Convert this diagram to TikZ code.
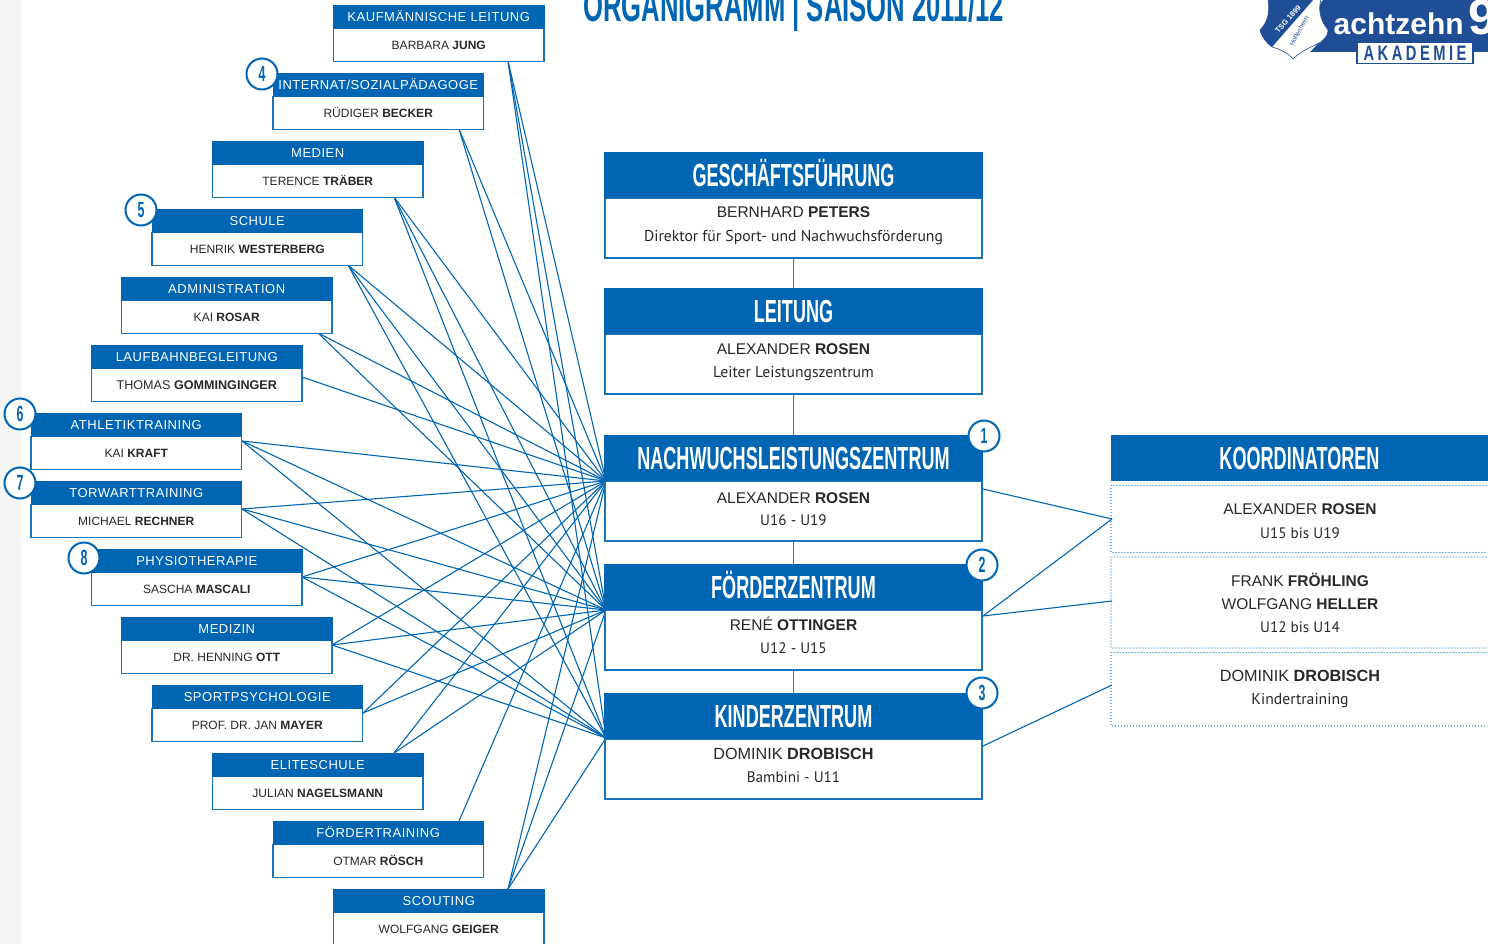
\documentclass[tikz,border=0pt]{standalone}
\usepackage{fontspec}
\setmainfont{Liberation Sans}
\newfontfamily\headfont[FakeStretch=0.565]{Liberation Sans}
\newfontfamily\titlefont[FakeStretch=0.57]{Liberation Sans}
\newfontfamily\logofont[FakeStretch=0.7]{Liberation Sans}
\newfontfamily\spaced[LetterSpace=4]{Liberation Sans}
\newfontfamily\subfont{PT Sans}
\definecolor{tsg}{HTML}{0066B3}
\definecolor{tsgdark}{HTML}{1F4E96}
\definecolor{ink}{HTML}{2B2728}
\definecolor{strip}{HTML}{F3F5F4}
\tikzset{
  link/.style={draw=tsg,line width=1.1pt},
  stem/.style={draw=tsg!85,line width=1.5pt},
  smallhead/.style={fill=tsg,text=white,inner sep=0pt,text height=9.3pt,text depth=0pt,font=\fontsize{13}{13}\spaced},
  smallbody/.style={draw=tsg!90,line width=1.1pt,fill=white,text=ink,inner sep=0pt,text height=8.6pt,text depth=0pt,font=\fontsize{12}{12}\selectfont},
  bighead/.style={fill=tsg,text=white,inner sep=0pt,text height=23pt,text depth=0pt,font=\fontsize{32}{32}\headfont\bfseries},
  bigbody/.style={draw=tsg!90,line width=1.3pt,fill=white,inner sep=0pt},
  nameline/.style={anchor=base,text=ink,inner sep=0pt,font=\fontsize{15.5}{16}\selectfont},
  namewide/.style={nameline,font=\fontsize{16.2}{17}\selectfont},
  subline/.style={anchor=base,text=ink,inner sep=0pt,font=\fontsize{15.7}{16}\subfont},
  subnum/.style={subline,font=\fontsize{15.2}{16}\subfont},
  badge/.style={circle,draw=tsg,line width=2pt,fill=white,text=tsg,minimum size=31pt,inner sep=0pt,font=\fontsize{22}{22}\headfont\bfseries},
  dots/.style={draw=tsg,line width=1.3pt,line cap=round,dash pattern=on 0pt off 3pt}
}
\newcommand{\smallbox}[6]{%
  \node[smallbody,minimum width={(#3-#2)*1pt},minimum height=33pt] (#1b) at ({(#2+#3)/2},{#4+40}) {#6};
  \node[smallhead,minimum width={(#3-#2+1)*1pt},minimum height=24pt] (#1h) at ({(#2+#3)/2},{#4+12}) {#5};
}
\newcommand{\bigbox}[3]{% name, top, title
  \node[bigbody,minimum width=377pt,minimum height=60pt] (#1b) at (793.5,{#2+76}) {};
  \node[bighead,minimum width=379pt,minimum height=46pt] (#1h) at (793.5,{#2+23}) {#3};
}
\begin{document}
\begin{tikzpicture}[x=1pt,y=-1pt]
\useasboundingbox (0,0) rectangle (1488,944);
\clip (0,0) rectangle (1488,944);
\fill[strip] (0,0) rectangle (21,944);

% fan targets and sources
\coordinate (nzp) at (606,481);
\coordinate (fzp) at (606,610);
\coordinate (kzp) at (606,738);
\coordinate (c1) at (508,61);
\coordinate (c2) at (459,129);
\coordinate (c3) at (394,197);
\coordinate (c4) at (348,265);
\coordinate (c5) at (318,333);
\coordinate (c6) at (302,377);
\coordinate (c7) at (242,441);
\coordinate (c8) at (242,509);
\coordinate (c9) at (302,577);
\coordinate (c10) at (332,645);
\coordinate (c11) at (363,713);
\coordinate (c12) at (394,753);
\coordinate (c13) at (459,821);
\coordinate (c14) at (508,889);
\foreach \c in {c1,c2,c3,c4,c5,c6,c7,c8,c9,c10,c11,c12,c13,c14} {\draw[link] (\c) -- (nzp);}
\foreach \c in {c1,c2,c3,c4,c5,c7,c8,c9,c10,c11,c12,c14} {\draw[link] (\c) -- (fzp);}
\foreach \c in {c1,c3,c4,c7,c8,c9,c10,c14} {\draw[link] (\c) -- (kzp);}

% left column
\smallbox{kauf}{333.5}{544}{5}{KAUFMÄNNISCHE LEITUNG}{BARBARA \textbf{JUNG}}
\smallbox{inter}{273}{483.5}{73}{INTERNAT/SOZIALPÄDAGOGE}{RÜDIGER \textbf{BECKER}}
\smallbox{medien}{212.5}{423}{141}{MEDIEN}{TERENCE \textbf{TRÄBER}}
\smallbox{schule}{152}{362.5}{209}{SCHULE}{HENRIK \textbf{WESTERBERG}}
\smallbox{admin}{121.5}{332}{277}{ADMINISTRATION}{KAI \textbf{ROSAR}}
\smallbox{lauf}{91.5}{302}{345}{LAUFBAHNBEGLEITUNG}{\fontsize{12.6}{12.6}\selectfont THOMAS \textbf{GOMMINGINGER}}
\smallbox{athl}{31}{241.5}{413}{ATHLETIKTRAINING}{KAI \textbf{KRAFT}}
\smallbox{tor}{31}{241.5}{481}{TORWARTTRAINING}{MICHAEL \textbf{RECHNER}}
\smallbox{phys}{91.5}{302}{549}{PHYSIOTHERAPIE}{SASCHA \textbf{MASCALI}}
\smallbox{medi}{121.5}{332}{617}{MEDIZIN}{DR. HENNING \textbf{OTT}}
\smallbox{sport}{152}{362.5}{685}{SPORTPSYCHOLOGIE}{PROF. DR. JAN \textbf{MAYER}}
\smallbox{elite}{212.5}{423}{753}{ELITESCHULE}{JULIAN \textbf{NAGELSMANN}}
\smallbox{foert}{273}{483.5}{821}{FÖRDERTRAINING}{OTMAR \textbf{RÖSCH}}
\smallbox{scout}{333.5}{544}{889}{SCOUTING}{WOLFGANG \textbf{GEIGER}}

% vertical connectors
\bigbox{gf}{152}{GESCHÄFTSFÜHRUNG}
\bigbox{le}{288}{LEITUNG}
\bigbox{nz}{435}{NACHWUCHSLEISTUNGSZENTRUM}
\bigbox{fz}{564}{FÖRDERZENTRUM}
\bigbox{kz}{693}{KINDERZENTRUM}
\draw[stem] (gfb.south) -- (leh.north);
\draw[stem] (leb.south) -- (nzh.north);
\draw[stem] (nzb.south) -- (fzh.north);
\draw[stem] (fzb.south) -- (kzh.north);

\node[nameline] (gfa) at (793.5,218) {BERNHARD \textbf{PETERS}};
\node[subline] (gfc) at (793.5,241) {Direktor für Sport- und Nachwuchsförderung};
\node[nameline] (lea) at (793.5,354) {ALEXANDER \textbf{ROSEN}};
\node[subline] (lec) at (793.5,377) {Leiter Leistungszentrum};
\node[nameline] (nza) at (793.5,503) {ALEXANDER \textbf{ROSEN}};
\node[subnum] (nzc) at (793.5,525) {U16 - U19};
\node[nameline] (fza) at (793.5,630) {RENÉ \textbf{OTTINGER}};
\node[subnum] (fzc) at (793.5,653) {U12 - U15};
\node[namewide] (kza) at (793.5,759) {DOMINIK \textbf{DROBISCH}};
\node[subnum] (kzc) at (793.5,782) {Bambini - U11};

% Koordinatoren
\node[bighead,minimum width=377pt,minimum height=46pt] (koh) at (1299.5,458) {KOORDINATOREN};
\draw[dots] (1486,485.5) -- (1111,485.5) -- (1111,552.5) -- (1486,552.5);
\draw[dots] (1486,557) -- (1111,557) -- (1111,648) -- (1486,648);
\draw[dots] (1486,652.5) -- (1111,652.5) -- (1111,726) -- (1486,726);
\coordinate (ko1) at (1112,519);
\coordinate (ko2) at (1112,601);
\coordinate (ko3) at (1112,685);
\coordinate (nzr) at (983,489);
\coordinate (fzr) at (983,616);
\coordinate (kzr) at (983,746);
\draw[link] (nzr) -- (ko1);
\draw[link] (fzr) -- (ko1);
\draw[link] (fzr) -- (ko2);
\draw[link] (kzr) -- (ko3);
\node[nameline] (koa) at (1300,514) {ALEXANDER \textbf{ROSEN}};
\node[subnum] (kob) at (1300,538) {U15 bis U19};
\node[nameline] (koc) at (1300,586) {FRANK \textbf{FRÖHLING}};
\node[nameline] (kod) at (1300,609) {WOLFGANG \textbf{HELLER}};
\node[subnum] (koe) at (1300,632) {U12 bis U14};
\node[namewide] (kof) at (1300,681) {DOMINIK \textbf{DROBISCH}};
\node[subline] (kog) at (1300,704) {Kindertraining};

% badges
\node[badge] (b1) at (984,436) {1};
\node[badge] (b2) at (982,565) {2};
\node[badge] (b3) at (982,693) {3};
\node[badge] (b4) at (262,74) {4};
\node[badge] (b5) at (141,210) {5};
\node[badge] (b6) at (20,414) {6};
\node[badge] (b7) at (20,483) {7};
\node[badge] (b8) at (84,558) {8};

% title
\node[anchor=base west,inner sep=0pt,text=tsg,font=\fontsize{45}{45}\titlefont\bfseries] (title) at (583,22) {ORGANIGRAMM | SAISON 2011/12};

% logo
\fill[tsgdark] (1323,0) .. controls (1316,8) and (1316,18) .. (1328,30) .. controls (1322,40) and (1316,46) .. (1310,52) -- (1488,52) -- (1488,0) -- cycle;
\filldraw[fill=white,draw=tsgdark,line width=0.6pt] (1268,-1) .. controls (1270,12) and (1268,22) .. (1260,30) .. controls (1262,38) and (1268,44) .. (1272,47) .. controls (1280,49) and (1288,53) .. (1293,59) .. controls (1302,50) and (1314,46) .. (1321,42) .. controls (1326,38) and (1328,34) .. (1328,30) .. controls (1320,20) and (1318,10) .. (1321,-1) -- cycle;
\fill[tsgdark] (1268,-1) .. controls (1270,12) and (1268,22) .. (1260,30) .. controls (1262,38) and (1268,44) .. (1272,47) -- (1314,-1) -- cycle;
\node[text=white,inner sep=0pt,rotate=48,font=\fontsize{7.5}{8}\bfseries] (tsgname) at (1288,19) {TSG 1899};
\node[text=tsgdark,inner sep=0pt,rotate=62,font=\fontsize{6.5}{7}\selectfont] (hoff) at (1299,31) {Hoffenheim};
\node[anchor=base west,inner sep=0pt,text=white,font=\fontsize{30}{30}\bfseries] (acht) at (1333.5,35) {achtzehn};
\node[anchor=base west,inner sep=0pt,text=white,font=\fontsize{50}{50}\bfseries] (nine) at (1468,35) {9};
\node[draw=tsgdark,line width=1.2pt,fill=white,minimum width=116pt,minimum height=21pt,inner sep=0pt,text=tsgdark,text height=15pt,text depth=0pt,font=\fontsize{21}{21}\logofont\bfseries] (aka) at (1415,53) {A\,K\,A\,D\,E\,M\,I\,E};
\end{tikzpicture}
\end{document}
